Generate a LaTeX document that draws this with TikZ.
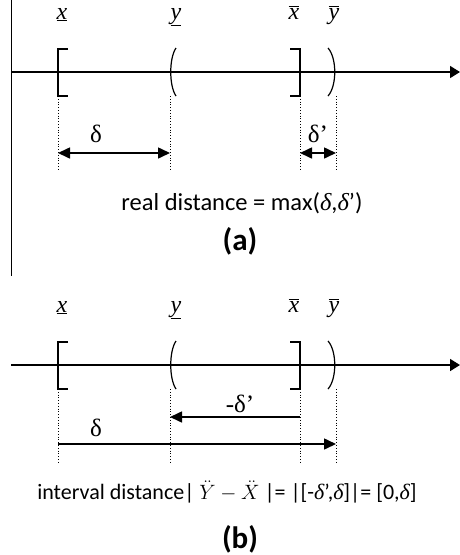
\documentclass[tikz,border=0pt]{standalone}
\usepackage{fontspec}
\setmainfont{Carlito}
\newfontfamily\timesfont{Liberation Serif}
\usetikzlibrary{arrows.meta,positioning}
\newcommand\dlt{{\timesfont\itshape δ}}

\begin{document}
\begin{tikzpicture}[x=1pt,y=-1pt,>={Triangle[length=12pt,width=11pt]},
  axis/.style={line width=1.6pt,-{Triangle[length=10pt,width=12pt]}},
  bound/.style={line width=1.2pt},
  guide/.style={dotted,line width=0.8pt},
  dist/.style={line width=1.6pt},
  endlbl/.style={anchor=base,inner sep=0pt,font=\timesfont\fontsize{24}{24}\selectfont\itshape},
  dlbl/.style={font=\timesfont\fontsize{25}{26}\selectfont},
  caption/.style={font=\fontsize{24.5}{26}\selectfont},
  tag/.style={font=\bfseries\fontsize{31}{34}\selectfont}]
  \useasboundingbox (0,0) rectangle (460,555);
  \draw[line width=0.8pt] (11,0) -- (11,276);
  % the two number lines
  \foreach \p/\oy in {a/0,b/293}{
    \begin{scope}[shift={(0,\oy)}]
      \coordinate (o\p) at (11,72);
      \coordinate (e\p) at (460,72);
      \coordinate (lx\p) at (58,72);
      \coordinate (ly\p) at (170,72);
      \coordinate (ux\p) at (300,72);
      \coordinate (uy\p) at (336,72);
      \draw[axis] (o\p) -- (e\p);
      \node[endlbl] (nlx\p) at (62,19) {\underline{x}};
      \node[endlbl] (nly\p) at (176,19) {\underline{y}};
      \node[endlbl] (nux\p) at (294,19) {$\overline{\mbox{\timesfont\itshape x}}$};
      \node[endlbl] (nuy\p) at (334,19) {$\overline{\mbox{\timesfont\itshape y}}$};
      \draw[bound] ([shift={(10,-23)}]lx\p) -- ([shift={(0,-23)}]lx\p)
        -- ([shift={(0,24)}]lx\p) -- ([shift={(10,24)}]lx\p);
      \draw[bound] ([shift={(-10,-23)}]ux\p) -- ([shift={(0,-23)}]ux\p)
        -- ([shift={(0,24)}]ux\p) -- ([shift={(-10,24)}]ux\p);
      \draw[bound] ([shift={(6,-24)}]ly\p) .. controls ([shift={(-1,-14)}]ly\p)
        and ([shift={(-1,14)}]ly\p) .. ([shift={(6,24)}]ly\p);
      \draw[bound] ([shift={(-8,-24)}]uy\p) .. controls ([shift={(1,-14)}]uy\p)
        and ([shift={(1,14)}]uy\p) .. ([shift={(-8,24)}]uy\p);
      \foreach \q in {lx,ly,ux,uy}
        \draw[guide] ([shift={(0,24)}]\q\p) -- ([shift={(0,99)}]\q\p);
    \end{scope}
  }
  % (a) real distance
  \coordinate (da1) at (58,153);
  \coordinate (da2) at (170,153);
  \coordinate (da3) at (300,153);
  \coordinate (da4) at (336,153);
  \draw[dist,<->] (da1) -- (da2);
  \draw[dist,<->] (da3) -- (da4);
  \node[dlbl] (nda) at (96,134) {δ};
  \node[dlbl] (ndb) at (318,134) {δ’};
  \node[caption] (capa) at (242,203) {real distance = max(\dlt,\dlt’)};
  \node[tag] (taga) at (240,241) {(a)};
  % (b) interval distance
  \coordinate (db1) at (300,417);
  \coordinate (db2) at (170,417);
  \coordinate (db3) at (58,444);
  \coordinate (db4) at (336,444);
  \draw[dist,->] (db1) -- (db2);
  \draw[dist,->] (db3) -- (db4);
  \node[dlbl] (ndc) at (240,404) {-δ’};
  \node[dlbl] (ndd) at (96,428) {δ};
  \node[caption,font=\fontsize{22}{24}\selectfont] (capb) at (227,492)
    {interval distance| $\ddot{Y}-\ddot{X}$ |= |[-\dlt’,\dlt]|= [0,\dlt]};
  \node[tag] (tagb) at (240,539) {(b)};
\end{tikzpicture}
\end{document}
